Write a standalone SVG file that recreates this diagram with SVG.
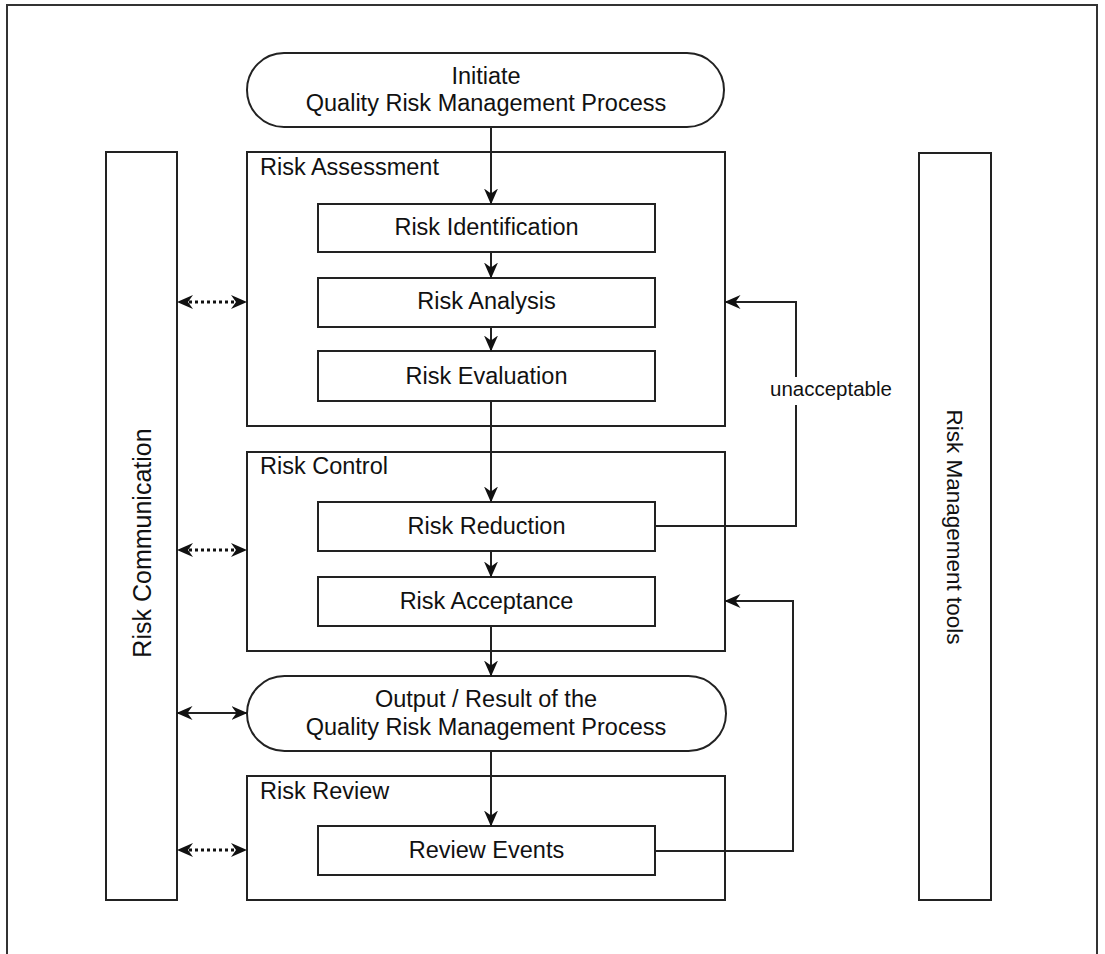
<svg xmlns="http://www.w3.org/2000/svg" width="1105" height="954" viewBox="0 0 1105 954">
  <defs>
    <style>
      .box { fill: #ffffff; stroke: #222222; stroke-width: 2; }
      .line { fill: none; stroke: #222222; stroke-width: 2; }
      .dotted { fill: none; stroke: #111111; stroke-width: 3; stroke-dasharray: 3 3; }
      .head { fill: #111111; }
      .t { font-family: "Liberation Sans", Arial, sans-serif; font-size: 23.5px; fill: #111111; }
      .c { text-anchor: middle; }
      .small { font-size: 20.5px; }
    </style>
    <marker id="arrow" viewBox="0 0 16 14" refX="15.5" refY="7" markerWidth="16" markerHeight="14" markerUnits="userSpaceOnUse" orient="auto-start-reverse">
      <path d="M0,0 L16,7 L0,14 L5,7 z" fill="#111111"/>
    </marker>
  </defs>

  <!-- page frame -->
  <rect x="7" y="5" width="1090" height="960" fill="#ffffff" stroke="#333333" stroke-width="2"/>

  <!-- side bars -->
  <g id="risk-communication">
    <rect class="box" x="106" y="152" width="71" height="748"/>
    <text class="t c" style="font-size:25px" transform="translate(151,543) rotate(-90)">Risk Communication</text>
  </g>
  <g id="risk-management-tools">
    <rect class="box" x="919" y="153" width="72" height="747"/>
    <text class="t c" style="font-size:22.5px" transform="translate(947,527) rotate(90)">Risk Management tools</text>
  </g>

  <!-- start / end terminals -->
  <g id="initiate">
    <rect class="box" x="247" y="53" width="477" height="74" rx="37" ry="37"/>
    <text class="t c" x="486" y="84">Initiate</text>
    <text class="t c" x="486" y="111">Quality Risk Management Process</text>
  </g>

  <!-- phase containers -->
  <g id="risk-assessment">
    <rect class="box" x="247" y="152" width="478" height="274"/>
    <text class="t" x="260" y="175">Risk Assessment</text>
  </g>
  <g id="risk-control">
    <rect class="box" x="247" y="452" width="478" height="199"/>
    <text class="t" x="260" y="474">Risk Control</text>
  </g>
  <g id="output">
    <rect class="box" x="247" y="676" width="479" height="75" rx="37.5" ry="37.5"/>
    <text class="t c" x="486" y="707">Output / Result of the</text>
    <text class="t c" x="486" y="735">Quality Risk Management Process</text>
  </g>
  <g id="risk-review">
    <rect class="box" x="247" y="776" width="478" height="124"/>
    <text class="t" x="260" y="799">Risk Review</text>
  </g>

  <!-- process steps -->
  <g id="risk-identification">
    <rect class="box" x="318" y="204" width="337" height="48"/>
    <text class="t c" x="486.5" y="235">Risk Identification</text>
  </g>
  <g id="risk-analysis">
    <rect class="box" x="318" y="278" width="337" height="49"/>
    <text class="t c" x="486.5" y="309">Risk Analysis</text>
  </g>
  <g id="risk-evaluation">
    <rect class="box" x="318" y="351" width="337" height="50"/>
    <text class="t c" x="486.5" y="384">Risk Evaluation</text>
  </g>
  <g id="risk-reduction">
    <rect class="box" x="318" y="502" width="337" height="49"/>
    <text class="t c" x="486.5" y="534">Risk Reduction</text>
  </g>
  <g id="risk-acceptance">
    <rect class="box" x="318" y="577" width="337" height="49"/>
    <text class="t c" x="486.5" y="609">Risk Acceptance</text>
  </g>
  <g id="review-events">
    <rect class="box" x="318" y="826" width="337" height="49"/>
    <text class="t c" x="486.5" y="858">Review Events</text>
  </g>

  <!-- connectors -->
  <g id="connectors">
    <!-- main flow -->
    <line class="line" x1="491" y1="127" x2="491" y2="204" marker-end="url(#arrow)"/>
    <line class="line" x1="491" y1="252" x2="491" y2="278" marker-end="url(#arrow)"/>
    <line class="line" x1="491" y1="327" x2="491" y2="351" marker-end="url(#arrow)"/>
    <line class="line" x1="491" y1="401" x2="491" y2="502" marker-end="url(#arrow)"/>
    <line class="line" x1="491" y1="551" x2="491" y2="577" marker-end="url(#arrow)"/>
    <line class="line" x1="491" y1="626" x2="491" y2="676" marker-end="url(#arrow)"/>
    <line class="line" x1="491" y1="751" x2="491" y2="826" marker-end="url(#arrow)"/>

    <!-- unacceptable loop back to assessment -->
    <polyline class="line" points="655,526 796,526 796,405"/>
    <polyline class="line" points="796,377 796,302 725,302" marker-end="url(#arrow)"/>
    <text class="t small" x="770" y="396">unacceptable</text>

    <!-- review loop back to control -->
    <polyline class="line" points="655,851 793,851 793,601 725,601" marker-end="url(#arrow)"/>

    <!-- communication links -->
    <line class="dotted" x1="183" y1="302" x2="241" y2="302"/>
    <path class="head" d="M177,302 l16,-7 l-5,7 l5,7 z M247,302 l-16,-7 l5,7 l-5,7 z"/>
    <line class="dotted" x1="183" y1="550" x2="241" y2="550"/>
    <path class="head" d="M177,550 l16,-7 l-5,7 l5,7 z M247,550 l-16,-7 l5,7 l-5,7 z"/>
    <line class="line" x1="177" y1="713" x2="247" y2="713" marker-start="url(#arrow)" marker-end="url(#arrow)"/>
    <line class="dotted" x1="183" y1="850" x2="241" y2="850"/>
    <path class="head" d="M177,850 l16,-7 l-5,7 l5,7 z M247,850 l-16,-7 l5,7 l-5,7 z"/>
  </g>
</svg>
